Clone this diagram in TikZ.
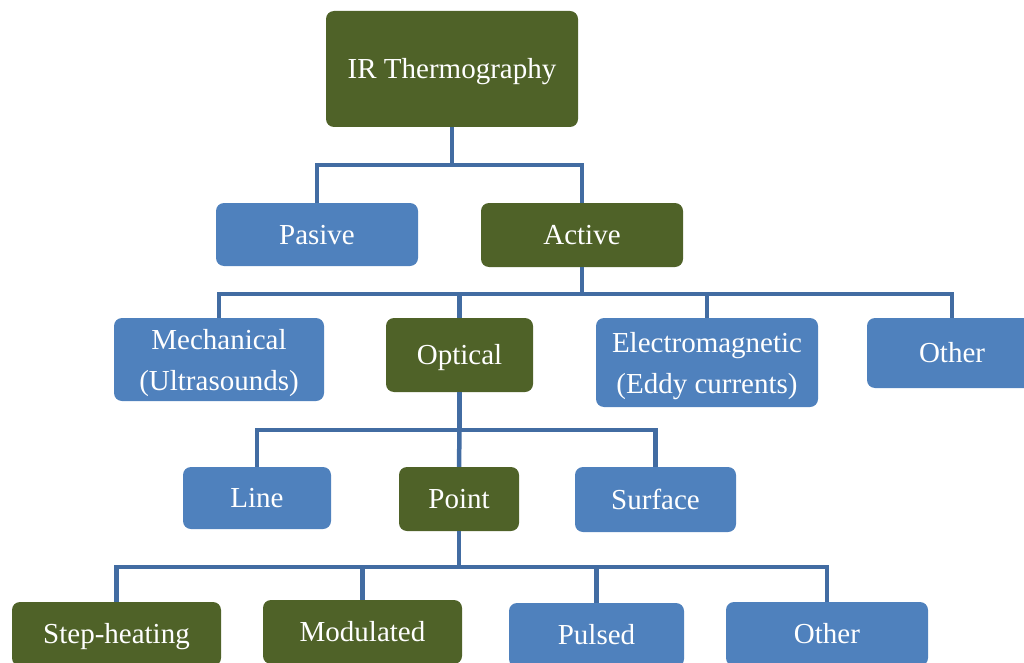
\documentclass[tikz,border=0pt]{standalone}
\usepackage{fontspec}
\setmainfont{Liberation Serif}
\usepackage{tikz}

\definecolor{olivebox}{RGB}{79,98,40}
\definecolor{bluebox}{RGB}{79,129,189}
\definecolor{linkblue}{RGB}{66,108,162}

\begin{document}
\begin{tikzpicture}[x=1pt, y=-1pt,
    box/.style={rounded corners=8pt, text=white, inner sep=0pt, align=center,
                font=\fontsize{29}{41}\selectfont, text height=25pt, text depth=6pt},
    twoline/.style={text height=68pt},
    gbox/.style={box, fill=olivebox},
    bbox/.style={box, fill=bluebox},
    link/.style={linkblue, line width=4.5pt}]
    \useasboundingbox (0,0) rectangle (1024,663);
    \clip (0,0) rectangle (1024,663);

    % levels of the tree
    \node[gbox, minimum width=252pt, minimum height=116pt] (ir) at (452,69) {IR Thermography};

    \node[bbox, minimum width=202pt, minimum height=63pt] (pasive) at (317,234.5) {Pasive};
    \node[gbox, minimum width=202pt, minimum height=64pt] (active) at (582,235) {Active};

    \node[bbox, twoline, minimum width=210pt, minimum height=83pt] (mech) at (219,359.5) {Mechanical\\(Ultrasounds)};
    \node[gbox, minimum width=147pt, minimum height=74pt] (optical) at (459.5,355) {Optical};
    \node[bbox, twoline, minimum width=222pt, minimum height=89pt] (emag) at (707,362.5) {Electromagnetic\\(Eddy currents)};
    \node[bbox, minimum width=170pt, minimum height=70pt] (other) at (952,353) {Other};

    \node[bbox, minimum width=148pt, minimum height=62pt] (line) at (257,498) {Line};
    \node[gbox, minimum width=120pt, minimum height=64pt] (point) at (459,499) {Point};
    \node[bbox, minimum width=161pt, minimum height=65pt] (surface) at (655.5,499.5) {Surface};

    \node[gbox, minimum width=209pt, minimum height=64pt] (step) at (116.5,634) {Step-heating};
    \node[gbox, minimum width=199pt, minimum height=64pt] (modul) at (362.5,632) {Modulated};
    \node[bbox, minimum width=175pt, minimum height=64pt] (pulsed) at (596.5,635) {Pulsed};
    \node[bbox, minimum width=202pt, minimum height=64pt] (otherb) at (827,634) {Other};

    % bus points
    \coordinate (bus1) at (452,165);
    \coordinate (bus2) at (582,294);
    \coordinate (bus3) at (459.5,430);
    \coordinate (bus4) at (459,567);

    \draw[link] (ir.south) -- (bus1);
    \draw[link] (pasive.north) |- (bus1) -| (active.north);

    \draw[link] (active.south) -- (bus2);
    \draw[link] (mech.north) |- (bus2) -| (other.north);
    \draw[link] (optical.north) -- (optical.north |- bus2);
    \draw[link] (emag.north) -- (emag.north |- bus2);

    \draw[link] (optical.south) -- (bus3);
    \draw[link] (line.north) |- (bus3) -| (surface.north);
    \draw[link] (point.north) -- (bus3);

    \draw[link] (point.south) -- (bus4);
    \draw[link] (step.north) |- (bus4) -| (otherb.north);
    \draw[link] (modul.north) -- (modul.north |- bus4);
    \draw[link] (pulsed.north) -- (pulsed.north |- bus4);
\end{tikzpicture}
\end{document}
